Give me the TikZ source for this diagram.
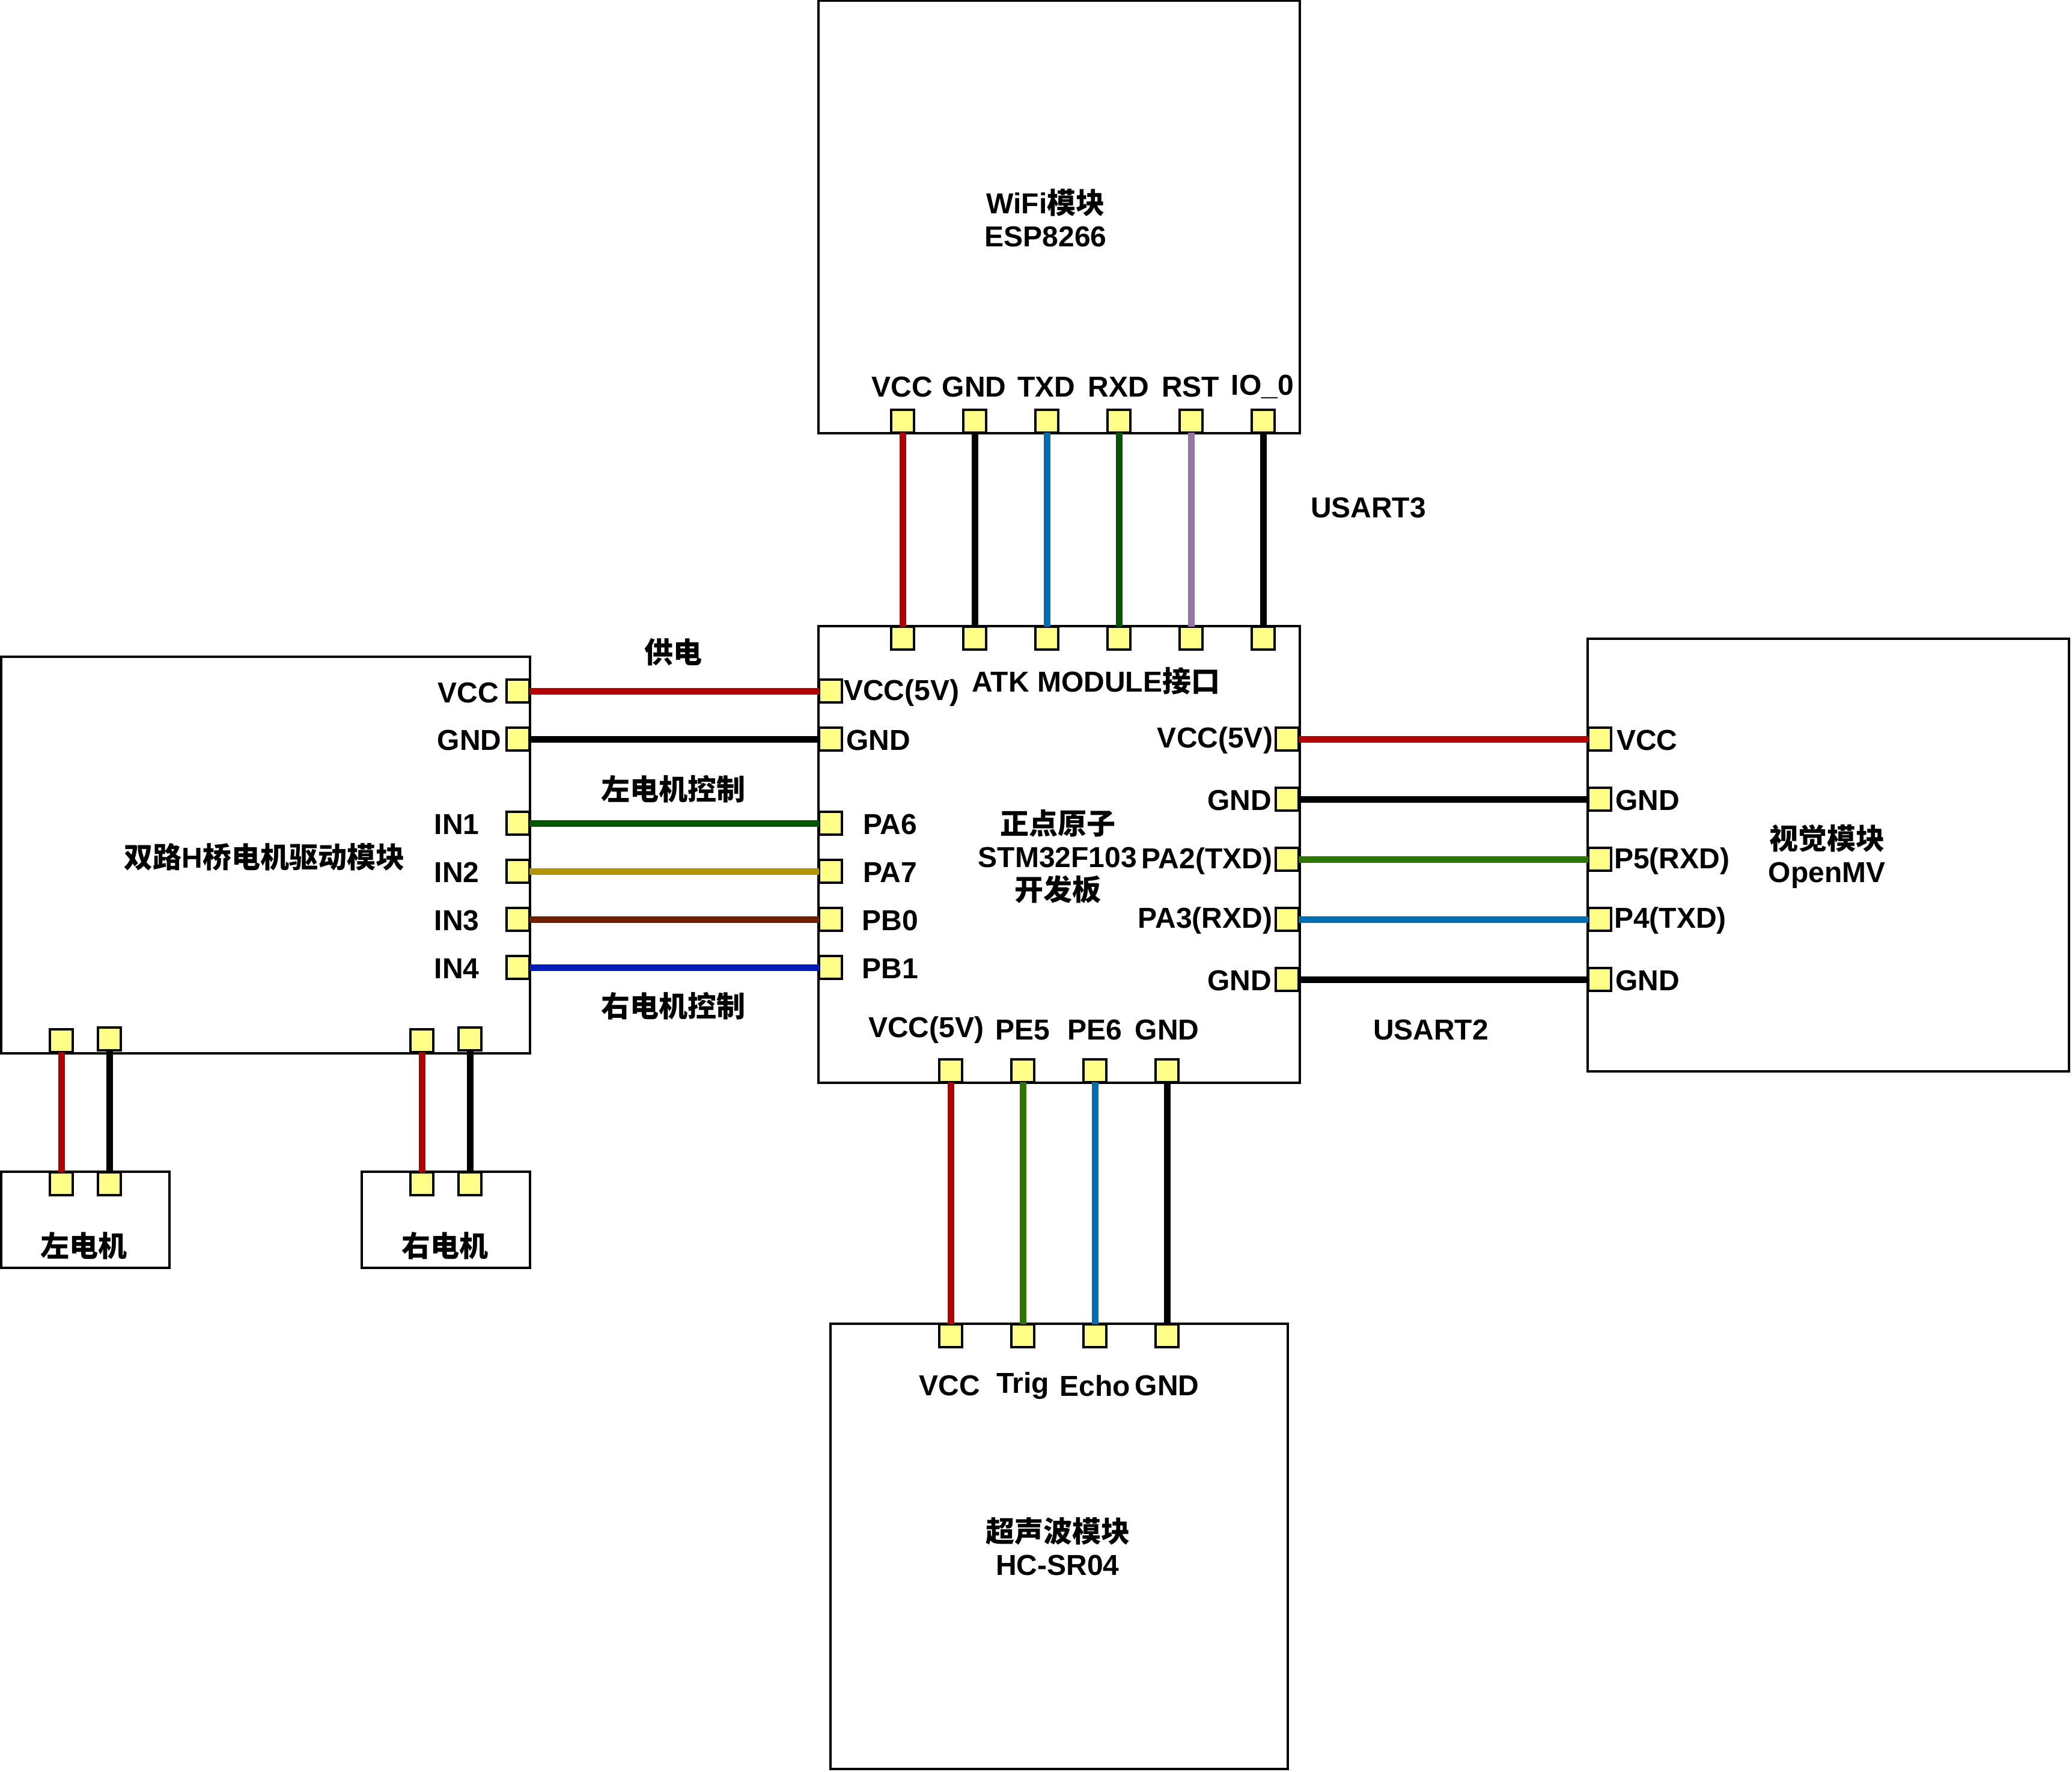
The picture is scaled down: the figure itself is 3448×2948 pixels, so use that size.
\documentclass[tikz,border=0pt]{standalone}
\usepackage{fontspec}
\setmainfont{Liberation Sans}
\newfontfamily\zhfont{Noto Sans CJK SC}
\newcommand\zh[1]{{\zhfont\bfseries #1}}
\definecolor{wred}{HTML}{B20000}
\definecolor{wblue}{HTML}{006EAF}
\definecolor{wdgreen}{HTML}{005700}
\definecolor{wgreen}{HTML}{2D7600}
\definecolor{wpurple}{HTML}{9673A6}
\definecolor{wgold}{HTML}{B09500}
\definecolor{wbrown}{HTML}{6D1F00}
\definecolor{wnavy}{HTML}{001DBC}
\definecolor{pinfill}{HTML}{FFFF88}
\tikzset{
  x=0.25pt,y=-0.25pt,
  blockbox/.style n args={2}{draw=black,line width=1.1pt,fill=white,rectangle,anchor=north west,inner sep=0pt,outer sep=0pt,minimum width=#1*0.25pt,minimum height=#2*0.25pt},
  pin/.style={draw=black,line width=1.1pt,fill=pinfill,rectangle,inner sep=0pt,outer sep=0pt,minimum width=9.5pt,minimum height=9.5pt},
  lab/.style={inner sep=0pt,outer sep=0pt,align=center,font=\fontsize{12}{13.75}\selectfont\bfseries},
  labl/.style={lab,anchor=west},
  labr/.style={lab,anchor=east},
  wire/.style={line width=2.75pt,line cap=butt},
}
\begin{document}
\begin{tikzpicture}
\useasboundingbox (0,0) rectangle (3448,2948);
% blocks
\node[blockbox={801}{720}] (wifi) at (1362,1) {};
\node[blockbox={801}{760}] (main) at (1362,1042) {};
\node[blockbox={880}{660}] (drv) at (2,1093) {};
\node[blockbox={801}{720}] (omv) at (2642,1063) {};
\node[blockbox={761}{741}] (sonar) at (1382,2203) {};
\node[blockbox={280}{160}] (lm) at (2,1950) {};
\node[blockbox={280}{160}] (rm) at (602,1950) {};
% pins: WiFi
\node[pin] (w1) at (1502,701) {};
\node[pin] (w2) at (1622,701) {};
\node[pin] (w3) at (1742,701) {};
\node[pin] (w4) at (1862,701) {};
\node[pin] (w5) at (1982,701) {};
\node[pin] (w6) at (2102,701) {};
% pins: main top
\node[pin] (t1) at (1502,1062) {};
\node[pin] (t2) at (1622,1062) {};
\node[pin] (t3) at (1742,1062) {};
\node[pin] (t4) at (1862,1062) {};
\node[pin] (t5) at (1982,1062) {};
\node[pin] (t6) at (2102,1062) {};
% pins: main left
\node[pin] (ml1) at (1382,1150) {};
\node[pin] (ml2) at (1382,1230) {};
\node[pin] (ml3) at (1382,1370) {};
\node[pin] (ml4) at (1382,1450) {};
\node[pin] (ml5) at (1382,1530) {};
\node[pin] (ml6) at (1382,1610) {};
% pins: driver right
\node[pin] (d1) at (862,1150) {};
\node[pin] (d2) at (862,1230) {};
\node[pin] (d3) at (862,1370) {};
\node[pin] (d4) at (862,1450) {};
\node[pin] (d5) at (862,1530) {};
\node[pin] (d6) at (862,1610) {};
% pins: main right
\node[pin] (mr1) at (2142,1230) {};
\node[pin] (mr2) at (2142,1330) {};
\node[pin] (mr3) at (2142,1430) {};
\node[pin] (mr4) at (2142,1530) {};
\node[pin] (mr5) at (2142,1630) {};
% pins: OpenMV
\node[pin] (o1) at (2662,1230) {};
\node[pin] (o2) at (2662,1330) {};
\node[pin] (o3) at (2662,1430) {};
\node[pin] (o4) at (2662,1530) {};
\node[pin] (o5) at (2662,1630) {};
% pins: main bottom
\node[pin] (b1) at (1582,1782) {};
\node[pin] (b2) at (1702,1782) {};
\node[pin] (b3) at (1822,1782) {};
\node[pin] (b4) at (1942,1782) {};
% pins: sonar
\node[pin] (s1) at (1582,2223) {};
\node[pin] (s2) at (1702,2223) {};
\node[pin] (s3) at (1822,2223) {};
\node[pin] (s4) at (1942,2223) {};
% pins: driver bottom, motors
\node[pin] (db1) at (102,1732) {};
\node[pin] (db2) at (182,1729) {};
\node[pin] (db3) at (702,1732) {};
\node[pin] (db4) at (782,1729) {};
\node[pin] (lm1) at (102,1970) {};
\node[pin] (lm2) at (182,1970) {};
\node[pin] (rm1) at (702,1970) {};
\node[pin] (rm2) at (782,1970) {};
% wires
\draw[wire,wred] (w1.south) -- (t1.north);
\draw[wire,black] (w2.south) -- (t2.north);
\draw[wire,wblue] (w3.south) -- (t3.north);
\draw[wire,wdgreen] (w4.south) -- (t4.north);
\draw[wire,wpurple] (w5.south) -- (t5.north);
\draw[wire,black] (w6.south) -- (t6.north);
\draw[wire,wred] (d1.east) -- (ml1.west);
\draw[wire,black] (d2.east) -- (ml2.west);
\draw[wire,wdgreen] (d3.east) -- (ml3.west);
\draw[wire,wgold] (d4.east) -- (ml4.west);
\draw[wire,wbrown] (d5.east) -- (ml5.west);
\draw[wire,wnavy] (d6.east) -- (ml6.west);
\draw[wire,wred] (mr1.east) -- (o1.west);
\draw[wire,black] (mr2.east) -- (o2.west);
\draw[wire,wgreen] (mr3.east) -- (o3.west);
\draw[wire,wblue] (mr4.east) -- (o4.west);
\draw[wire,black] (mr5.east) -- (o5.west);
\draw[wire,wred] (b1.south) -- (s1.north);
\draw[wire,wgreen] (b2.south) -- (s2.north);
\draw[wire,wblue] (b3.south) -- (s3.north);
\draw[wire,black] (b4.south) -- (s4.north);
\draw[wire,wred] (db1.south) -- (lm1.north);
\draw[wire,black] (db2.south) -- (lm2.north);
\draw[wire,wred] (db3.south) -- (rm1.north);
\draw[wire,black] (db4.south) -- (rm2.north);
% block titles
\node[lab] (twifi) at (1740,363) {WiFi\zh{模块}\\ESP8266};
\node[lab] (tmain) at (1760,1425) {\zh{正点原子}\\STM32F103\\\zh{开发板}};
\node[lab] (tatk) at (1824,1133) {ATK MODULE\zh{接口}};
\node[lab] (tdrv) at (440,1426) {\zh{双路}H\zh{桥电机驱动模块}};
\node[lab] (tomv) at (3040,1425) {\zh{视觉模块}\\OpenMV};
\node[lab] (tsonar) at (1760,2574) {\zh{超声波模块}\\HC-SR04};
\node[lab] (tlm) at (139,2073) {\zh{左电机}};
\node[lab] (trm) at (740,2073) {\zh{右电机}};
% group labels
\node[lab] (gu3) at (2277,845) {USART3};
\node[lab] (gu2) at (2381,1714) {USART2};
\node[lab] (gp) at (1120,1085) {\zh{供电}};
\node[lab] (gl) at (1120,1313) {\zh{左电机控制}};
\node[lab] (gr) at (1120,1674) {\zh{右电机控制}};
% WiFi pin labels
\node[lab] (lw1) at (1501,644) {VCC};
\node[lab] (lw2) at (1621,644) {GND};
\node[lab] (lw3) at (1741,644) {TXD};
\node[lab] (lw4) at (1861,644) {RXD};
\node[lab] (lw5) at (1981,644) {RST};
\node[lab] (lw6) at (2101,644) {IO\_0};
% main left labels
\node[labl] (lm1t) at (1404,1153) {VCC(5V)};
\node[labl] (lm2t) at (1408,1232) {GND};
\node[lab] (lm3t) at (1481,1372) {PA6};
\node[lab] (lm4t) at (1481,1452) {PA7};
\node[lab] (lm5t) at (1481,1532) {PB0};
\node[lab] (lm6t) at (1481,1612) {PB1};
% main right labels
\node[labr] (rm1t) at (2118,1232) {VCC(5V)};
\node[labr] (rm2t) at (2116,1332) {GND};
\node[labr] (rm3t) at (2117,1433) {PA2(TXD)};
\node[labr] (rm4t) at (2117,1532) {PA3(RXD)};
\node[labr] (rm5t) at (2116,1632) {GND};
% main bottom labels
\node[lab] (bm1t) at (1541,1714) {VCC(5V)};
\node[lab] (bm2t) at (1702,1714) {PE5};
\node[lab] (bm3t) at (1822,1714) {PE6};
\node[lab] (bm4t) at (1942,1714) {GND};
% driver labels
\node[lab] (dl1) at (779,1153) {VCC};
\node[lab] (dl2) at (781,1232) {GND};
\node[lab] (dl3) at (760,1372) {IN1};
\node[lab] (dl4) at (760,1452) {IN2};
\node[lab] (dl5) at (760,1532) {IN3};
\node[lab] (dl6) at (760,1612) {IN4};
% OpenMV labels
\node[labl] (ol1) at (2690,1232) {VCC};
\node[labl] (ol2) at (2688,1332) {GND};
\node[labl] (ol3) at (2686,1433) {P5(RXD)};
\node[labl] (ol4) at (2686,1532) {P4(TXD)};
\node[labl] (ol5) at (2688,1632) {GND};
% sonar labels
\node[lab] (sl1) at (1580,2306) {VCC};
\node[lab] (sl2) at (1702,2306) {Trig};
\node[lab] (sl3) at (1822,2306) {Echo};
\node[lab] (sl4) at (1942,2306) {GND};
\end{tikzpicture}
\end{document}
